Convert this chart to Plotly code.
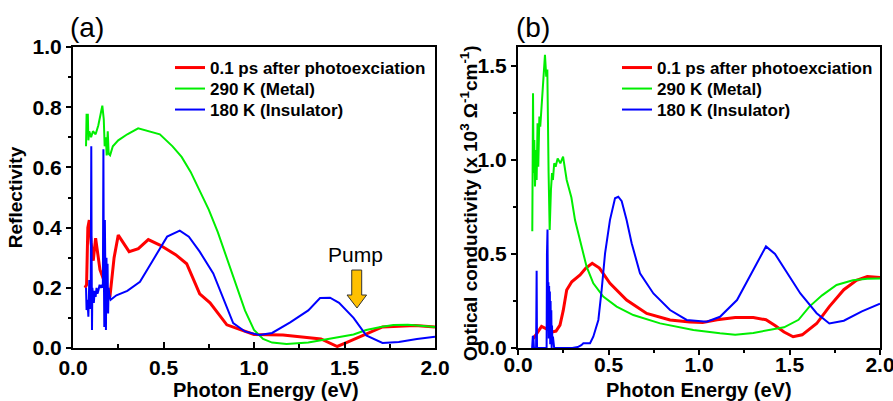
import plotly.graph_objects as go

W, H = 893, 401

# ---------------- Panel (a): Reflectivity ----------------
refl_red_E = [0.066, 0.075, 0.082, 0.09, 0.1, 0.112, 0.125, 0.149, 0.204, 0.227, 0.25, 0.31, 0.361,
              0.416, 0.48, 0.567, 0.628, 0.70, 0.757, 0.85, 1.0, 1.16, 1.37, 1.46, 1.52, 1.71, 1.89, 2.0]
refl_red_R = [0.2, 0.21, 0.4, 0.425, 0.35, 0.29, 0.365, 0.26, 0.17, 0.3, 0.375, 0.32, 0.33,
              0.36, 0.342, 0.31, 0.28, 0.18, 0.15, 0.077, 0.045, 0.043, 0.03, 0.005, 0.02, 0.07, 0.075, 0.07]

refl_green_E = [0.072, 0.075, 0.082, 0.085, 0.09, 0.1, 0.11, 0.125, 0.14, 0.152, 0.162, 0.17, 0.175,
                0.182, 0.186, 0.192, 0.197, 0.205, 0.22, 0.25, 0.3, 0.36, 0.42, 0.48, 0.55, 0.6, 0.65,
                0.7, 0.75, 0.8, 0.85, 0.9, 0.95, 1.0, 1.05, 1.1, 1.18, 1.3, 1.44, 1.55, 1.62, 1.7,
                1.77, 1.85, 1.92, 2.0]
refl_green_R = [0.67, 0.775, 0.775, 0.69, 0.72, 0.70, 0.72, 0.71, 0.74, 0.77, 0.805, 0.76, 0.67,
                0.70, 0.64, 0.72, 0.645, 0.64, 0.67, 0.69, 0.71, 0.73, 0.72, 0.71, 0.67, 0.635, 0.585,
                0.52, 0.46, 0.385, 0.30, 0.21, 0.125, 0.06, 0.03, 0.018, 0.013, 0.018, 0.033, 0.045,
                0.06, 0.07, 0.076, 0.077, 0.074, 0.07]

refl_blue_E = [0.072, 0.075, 0.08, 0.085, 0.09, 0.094, 0.098, 0.101, 0.103, 0.105, 0.107, 0.11,
               0.115, 0.12, 0.125, 0.13, 0.135, 0.14, 0.147, 0.153, 0.16, 0.165, 0.168, 0.17, 0.173,
               0.176, 0.179, 0.182, 0.185, 0.188, 0.191, 0.194, 0.197, 0.2, 0.208, 0.24, 0.3, 0.37,
               0.44, 0.52, 0.59, 0.64, 0.7, 0.775, 0.885, 0.95, 1.03, 1.1, 1.2, 1.3, 1.365, 1.42,
               1.47, 1.55, 1.62, 1.71, 1.8, 1.9, 2.0]
refl_blue_R = [0.2, 0.126, 0.16, 0.104, 0.226, 0.13, 0.2, 0.67, 0.3, 0.06, 0.2, 0.18,
               0.15, 0.19, 0.17, 0.2, 0.18, 0.19, 0.21, 0.2, 0.21, 0.2, 0.66, 0.3, 0.07,
               0.425, 0.1, 0.06, 0.3, 0.13, 0.28, 0.115, 0.2, 0.18, 0.16, 0.175, 0.19, 0.22,
               0.29, 0.37, 0.39, 0.37, 0.32, 0.248, 0.083, 0.055, 0.043, 0.05, 0.085, 0.125, 0.166, 0.167,
               0.15, 0.1, 0.042, 0.017, 0.02, 0.03, 0.037]

# ---------------- Panel (b): Optical conductivity ----------------
sig_red_E = [0.085, 0.1, 0.13, 0.16, 0.19, 0.21, 0.232, 0.25, 0.269, 0.297, 0.343, 0.375, 0.41, 0.45,
             0.508, 0.6, 0.711, 0.84, 0.95, 1.02, 1.1, 1.2, 1.3, 1.37, 1.42, 1.47, 1.52, 1.57, 1.65,
             1.72, 1.8, 1.87, 1.93, 2.0]
sig_red_S = [0.05, 0.07, 0.115, 0.1, 0.085, 0.09, 0.122, 0.2, 0.308, 0.352, 0.388, 0.425, 0.45, 0.425,
             0.344, 0.255, 0.184, 0.149, 0.138, 0.135, 0.15, 0.162, 0.162, 0.15, 0.12, 0.085, 0.06, 0.07,
             0.13, 0.22, 0.31, 0.36, 0.38, 0.375]

sig_green_E = [0.079, 0.080, 0.083, 0.086, 0.09, 0.094, 0.099, 0.103, 0.108, 0.112, 0.118, 0.123, 0.13,
               0.137, 0.145, 0.149, 0.156, 0.162, 0.169, 0.175, 0.182, 0.188, 0.193, 0.2, 0.208, 0.219,
               0.234, 0.249, 0.269, 0.295, 0.315, 0.352, 0.379, 0.416, 0.471, 0.545, 0.637, 0.785, 0.969,
               1.116, 1.2, 1.3, 1.4, 1.47, 1.55, 1.61, 1.68, 1.76, 1.85, 1.93, 2.0]
sig_green_S = [0.62, 0.93, 1.354, 0.93, 1.106, 0.858, 1.053, 0.893, 1.195, 0.964, 1.23, 1.177, 1.283,
               1.372, 1.513, 1.558, 1.442, 1.48, 0.93, 0.627, 0.84, 0.93, 0.893, 0.982, 0.964, 1.008,
               0.982, 1.017, 0.893, 0.80, 0.68, 0.539, 0.432, 0.344, 0.273, 0.22, 0.175, 0.131, 0.096,
               0.078, 0.07, 0.08, 0.1, 0.11, 0.15, 0.22, 0.28, 0.335, 0.36, 0.368, 0.37]

sig_blue_E = [0.078, 0.079, 0.082, 0.085, 0.087, 0.088, 0.1, 0.101, 0.103, 0.105, 0.106, 0.158, 0.16,
              0.163, 0.166, 0.168, 0.17, 0.172, 0.174, 0.176, 0.178, 0.18, 0.182, 0.184, 0.186, 0.188,
              0.19, 0.193, 0.196, 0.2, 0.25, 0.3, 0.33, 0.35, 0.361, 0.398, 0.416, 0.444, 0.462, 0.481,
              0.508, 0.536, 0.554, 0.573, 0.6, 0.628, 0.674, 0.748, 0.84, 0.932, 1.043, 1.116, 1.21,
              1.3, 1.37, 1.42, 1.5, 1.56, 1.65, 1.72, 1.8, 1.9, 2.0]
sig_blue_S = [0.0, 0.064, 0.064, 0.06, 0.02, 0.0, 0.0, 0.41, 0.41, 0.0, 0.0, 0.0, 0.5,
              0.63, 0.1, 0.35, 0.05, 0.33, 0.08, 0.3, 0.02, 0.25, 0.05, 0.2, 0.0, 0.12,
              0.02, 0.06, 0.0, 0.0, 0.0, 0.0, 0.005, 0.015, 0.025, 0.025, 0.06, 0.149, 0.308, 0.503,
              0.68, 0.796, 0.804, 0.78, 0.68, 0.557, 0.397, 0.29, 0.202, 0.149, 0.14, 0.166, 0.255,
              0.42, 0.54, 0.5, 0.38, 0.29, 0.185, 0.13, 0.145, 0.195, 0.235]

names = ["0.1 ps after photoexciation", "290 K (Metal)", "180 K (Insulator)"]
colors = ["#ff0000", "#00ee00", "#0000ff"]
widths = [3, 2, 2]

x_title = "Photon Energy (eV)"
y_title_a = "Reflectivity"
y_title_b = "Optical conductivity (x 10<sup>3</sup> \u03a9<sup>-1</sup>cm<sup>-1</sup>)"

FONT = "Liberation Sans, Arial, sans-serif"

fig = go.Figure()

panelA = [(refl_red_E, refl_red_R), (refl_green_E, refl_green_R), (refl_blue_E, refl_blue_R)]
panelB = [(sig_red_E, sig_red_S), (sig_green_E, sig_green_S), (sig_blue_E, sig_blue_S)]

# one legend per row so the rows sit at the reference spacing
legA = ["legend", "legend2", "legend3"]
legB = ["legend4", "legend5", "legend6"]

for i, (xs, ys) in enumerate(panelA):
    fig.add_trace(go.Scatter(x=xs, y=ys, mode="lines", name=names[i],
                             line=dict(color=colors[i], width=widths[i]),
                             xaxis="x", yaxis="y", legend=legA[i]))
for i, (xs, ys) in enumerate(panelB):
    fig.add_trace(go.Scatter(x=xs, y=ys, mode="lines", name=names[i],
                             line=dict(color=colors[i], width=widths[i]),
                             xaxis="x2", yaxis="y2", legend=legB[i]))

def px_x(p):
    return p / W

def px_y(p):
    return 1 - p / H

ydom = [px_y(348), px_y(47)]
tickfont = dict(family=FONT, size=21, color="black", weight="bold")
titlefont = dict(family=FONT, size=20, color="black", weight="bold")
ytitlefont = dict(family=FONT, size=19, color="black", weight="bold")
legfont = dict(family=FONT, size=17, color="black", weight="bold")

common_axis = dict(showline=True, linecolor="black", linewidth=2, mirror=True,
                   showgrid=False, zeroline=False, tickcolor="black", tickwidth=1.5,
                   tickfont=tickfont, automargin=False, ticklabeloverflow="allow")

layout = dict(
    width=W, height=H,
    margin=dict(l=0, r=0, t=0, b=0, autoexpand=False),
    paper_bgcolor="white", plot_bgcolor="white",
    xaxis=dict(domain=[px_x(73), px_x(435)], anchor="y", range=[0, 2.0], dtick=0.5,
               tickformat=".1f", ticks="inside", ticklen=6,
               minor=dict(dtick=0.25, ticks="inside", ticklen=4, tickcolor="black"),
               **common_axis),
    yaxis=dict(domain=ydom, anchor="x", range=[0, 1.0], dtick=0.2, tickformat=".1f",
               ticks="outside", ticklen=5,
               minor=dict(dtick=0.1, ticks="outside", ticklen=3, tickcolor="black"),
               title=dict(text=y_title_a, font=ytitlefont, standoff=5),
               **common_axis),
    xaxis2=dict(domain=[px_x(518), px_x(880)], anchor="y2", range=[0, 2.0], dtick=0.5,
                tickformat=".1f", ticks="outside", ticklen=5, ticklabelstandoff=-8,
                minor=dict(dtick=0.25, ticks="outside", ticklen=3, tickcolor="black"),
                **common_axis),
    yaxis2=dict(domain=ydom, anchor="x2", range=[0, 1.6], dtick=0.5, tickformat=".1f",
                ticks="outside", ticklen=5,
                minor=dict(dtick=0.25, ticks="outside", ticklen=3, tickcolor="black"),
                **common_axis),
    showlegend=True,
)

row_tops = [50, 71, 92]
for i in range(3):
    layout[legA[i]] = dict(x=px_x(170), y=px_y(row_tops[i]), xanchor="left", yanchor="top",
                           bgcolor="rgba(0,0,0,0)", font=legfont, itemwidth=30)
    layout[legB[i]] = dict(x=px_x(617), y=px_y(row_tops[i]), xanchor="left", yanchor="top",
                           bgcolor="rgba(0,0,0,0)", font=legfont, itemwidth=30)

fig.update_layout(**layout)

# Axis titles placed precisely
fig.add_annotation(text=x_title, x=px_x(266), y=px_y(390), xref="paper", yref="paper",
                   xanchor="center", yanchor="middle", showarrow=False, font=titlefont)
fig.add_annotation(text=x_title, x=px_x(699), y=px_y(390), xref="paper", yref="paper",
                   xanchor="center", yanchor="middle", showarrow=False, font=titlefont)
fig.add_annotation(text=y_title_b, x=px_x(483), y=px_y(203), xref="paper", yref="paper",
                   textangle=-90, xanchor="right", yanchor="middle", showarrow=False,
                   font=ytitlefont)

# Panel labels
fig.add_annotation(text="(a)", x=px_x(68), y=px_y(28), xref="paper", yref="paper",
                   xanchor="left", yanchor="middle", showarrow=False,
                   font=dict(family=FONT, size=28, color="black"))
fig.add_annotation(text="(b)", x=px_x(514), y=px_y(28), xref="paper", yref="paper",
                   xanchor="left", yanchor="middle", showarrow=False,
                   font=dict(family=FONT, size=28, color="black"))

# Pump label and arrow
fig.add_annotation(text="Pump", x=1.56, y=0.31, xref="x", yref="y", showarrow=False,
                   font=dict(family=FONT, size=21, color="black"))
fig.add_shape(type="path", xref="x", yref="y",
              path="M 1.54 0.259 L 1.595 0.259 L 1.595 0.176 L 1.622 0.176 L 1.569 0.133 "
                   "L 1.514 0.176 L 1.54 0.176 Z",
              fillcolor="#ffc000", line=dict(color="#333333", width=1))

fig.write_html("out.html")
